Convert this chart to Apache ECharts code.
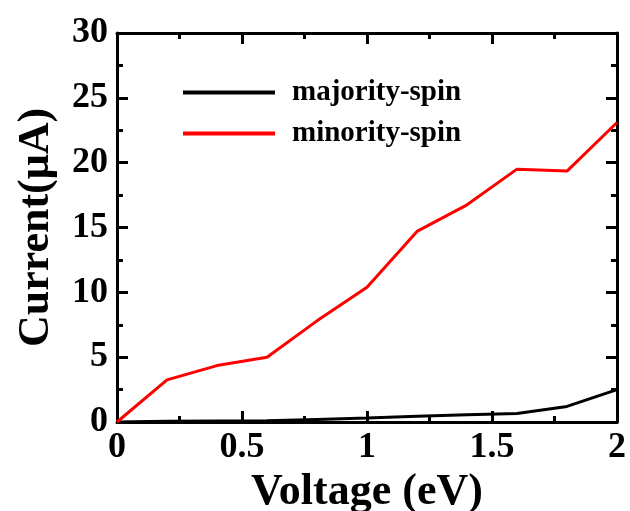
<!DOCTYPE html>
<html><head><meta charset="utf-8">
<script src="https://cdn.jsdelivr.net/npm/echarts@6/dist/echarts.min.js"></script>
<style>html,body{margin:0;padding:0;background:#fff}#c{width:630px;height:511px}</style>
</head><body><div id="c"></div>
<script>
const voltage = [0, 0.2, 0.4, 0.6, 0.8, 1.0, 1.2, 1.4, 1.6, 1.8, 2.0];
const majority = [0, 0.05, 0.08, 0.1, 0.2, 0.3, 0.45, 0.55, 0.65, 1.2, 2.5];
const minority = [0, 3.25, 4.35, 5.0, 7.8, 10.4, 14.7, 16.75, 19.5, 19.35, 23.1];
const seriesNames = ['majority-spin', 'minority-spin'];
const FONT = '"Liberation Serif", "Times New Roman", serif';

const chart = echarts.init(document.getElementById('c'));
const pair = (xs, ys) => xs.map((x, i) => [x, ys[i]]);
const axisCommon = {
  type: 'value',
  axisLine: {show: true, onZero: false, lineStyle: {color: '#000', width: 3}},
  axisTick: {show: true, inside: true, length: 11, lineStyle: {color: '#000', width: 3}},
  minorTick: {show: true, splitNumber: 2, length: 6, lineStyle: {color: '#000', width: 3}},
  splitLine: {show: false}
};
chart.setOption({
  animation: false,
  backgroundColor: '#fff',
  grid: {left: 117, right: 13, top: 33, bottom: 89, containLabel: false, outerBoundsMode: 'none'},
  legend: {
    orient: 'vertical', left: 178, top: 73, itemWidth: 92, itemHeight: 4, itemGap: 12,
    icon: 'rect',
    textStyle: {fontFamily: FONT, fontWeight: 'bold', fontSize: 29, color: '#000', padding: [0, 0, 0, 12]},
    data: seriesNames
  },
  xAxis: [
    Object.assign({}, axisCommon, {
      position: 'bottom', min: 0, max: 2, interval: 0.5,
      axisLabel: {color: '#000', fontFamily: FONT, fontWeight: 'bold', fontSize: 36, margin: 8},
      name: 'Voltage (eV)', nameLocation: 'middle', nameGap: 44,
      nameTextStyle: {color: '#000', fontFamily: FONT, fontWeight: 'bold', fontSize: 44}
    }),
    Object.assign({}, axisCommon, {
      position: 'top', min: 0, max: 2, interval: 0.5, axisLabel: {show: false}
    })
  ],
  yAxis: [
    Object.assign({}, axisCommon, {
      position: 'left', min: 0, max: 30, interval: 5,
      axisLabel: {color: '#000', fontFamily: FONT, fontWeight: 'bold', fontSize: 36, margin: 9},
      name: 'Current(μA)', nameLocation: 'middle', nameGap: 58,
      nameTextStyle: {color: '#000', fontFamily: FONT, fontWeight: 'bold', fontSize: 44}
    }),
    Object.assign({}, axisCommon, {
      position: 'right', min: 0, max: 30, interval: 5, axisLabel: {show: false}
    })
  ],
  series: [
    {name: seriesNames[0], type: 'line', data: pair(voltage, majority), showSymbol: false, symbol: 'none',
     lineStyle: {color: '#000', width: 3}, itemStyle: {color: '#000'}, z: 3},
    {name: seriesNames[1], type: 'line', data: pair(voltage, minority), showSymbol: false, symbol: 'none',
     lineStyle: {color: '#ff0000', width: 3}, itemStyle: {color: '#ff0000'}, z: 4}
  ]
});
</script></body></html>
